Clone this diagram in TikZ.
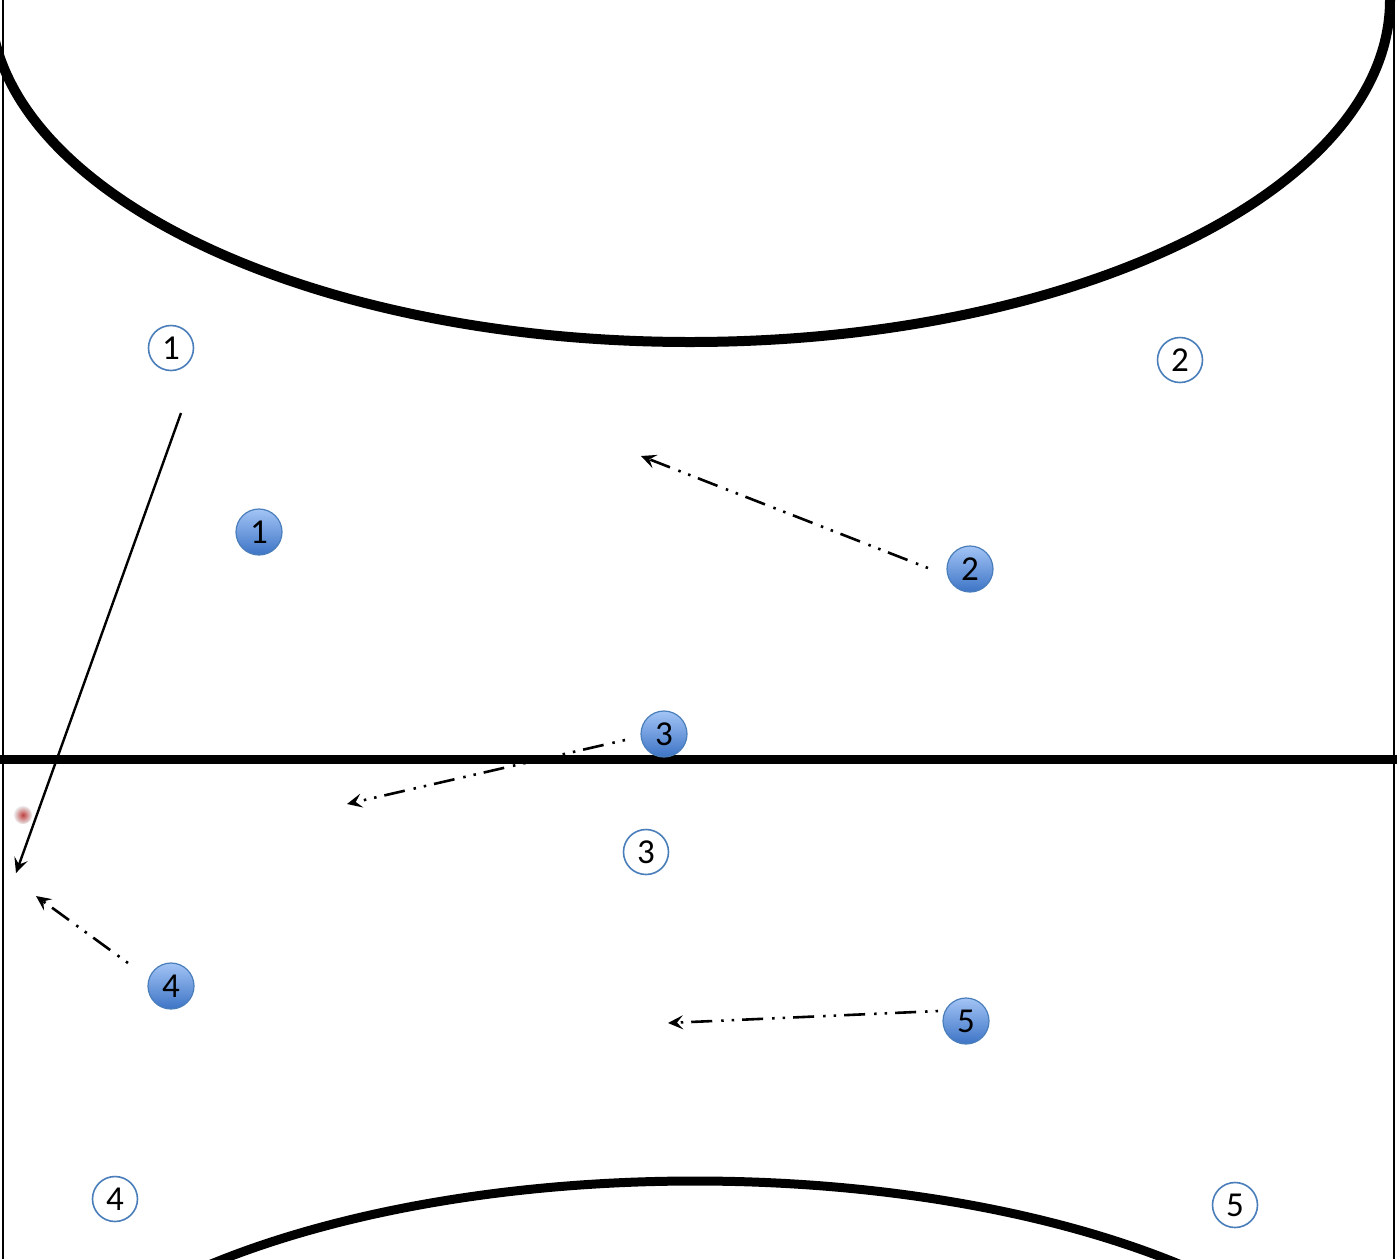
\documentclass[tikz,border=0pt]{standalone}
\usepackage{fontspec}
\setmainfont{Carlito}
\usetikzlibrary{arrows.meta}
\definecolor{ringblue}{HTML}{4A7EBB}
\definecolor{balltop}{HTML}{A3C4F5}
\definecolor{ballbot}{HTML}{3D74C6}
\tikzset{
  ring/.style={circle, draw=ringblue, line width=1.6pt, fill=white, minimum size=45pt, inner sep=0pt, font=\fontsize{35}{37}\selectfont},
  ball/.style={circle, draw=ringblue, line width=1.2pt, top color=balltop, bottom color=ballbot, minimum size=46pt, inner sep=0pt, font=\fontsize{35}{37}\selectfont},
  pass/.style={line width=2.6pt, dash pattern=on 2.5pt off 8pt on 2.5pt off 9pt on 21pt off 8pt, -{Stealth[length=15pt,width=14pt,inset=6pt]}},
  run/.style={line width=2.4pt, -{Stealth[length=15pt,width=14pt,inset=6pt]}},
  court/.style={line width=10pt},
  border/.style={line width=2pt}
}
\begin{document}
\begin{tikzpicture}[x=1pt,y=-1pt]
\useasboundingbox (0,0) rectangle (1397,1259);
\fill[white] (0,0) rectangle (1397,1259);
\begin{scope}
\clip (0,0) rectangle (1397,1259);
\draw[court] (690,0) ellipse [x radius=700, y radius=342];
\draw[line width=9pt] (695,1475) ellipse [x radius=695, y radius=294];
\end{scope}
\draw[border] (3,0) -- (3,1259);
\draw[border] (1394,0) -- (1394,1259);
\draw[line width=9pt] (0,759) -- (1397,759);
% red spot
\shade[inner color=red!50!gray, outer color=gray!15] (23,815) circle (9);
% rings
\node[ring] (c1) at (171,348) {1};
\node[ring] (c2) at (1180,360) {2};
\node[ring] (c3) at (646,852) {3};
\node[ring] (c4) at (115,1199) {4};
\node[ring] (c5) at (1235,1205) {5};
% balls
\node[ball] (b1) at (259,532) {1};
\node[ball] (b2) at (970,569) {2};
\node[ball] (b3) at (664,734) {3};
\node[ball] (b4) at (171,986) {4};
\node[ball] (b5) at (966,1021) {5};
% arrow points
\coordinate (r1s) at (181,413);
\coordinate (r1e) at (16,873);
\coordinate (p2s) at (928,568);
\coordinate (p2e) at (641,456);
\coordinate (p3s) at (625,740);
\coordinate (p3e) at (347,804);
\coordinate (p4s) at (128,963);
\coordinate (p4e) at (36,896);
\coordinate (p5s) at (938,1011);
\coordinate (p5e) at (668,1023);
\draw[run] (r1s) -- (r1e);
\draw[pass] (p2s) -- (p2e);
\draw[pass] (p3s) -- (p3e);
\draw[pass] (p4s) -- (p4e);
\draw[pass] (p5s) -- (p5e);
\end{tikzpicture}
\end{document}
